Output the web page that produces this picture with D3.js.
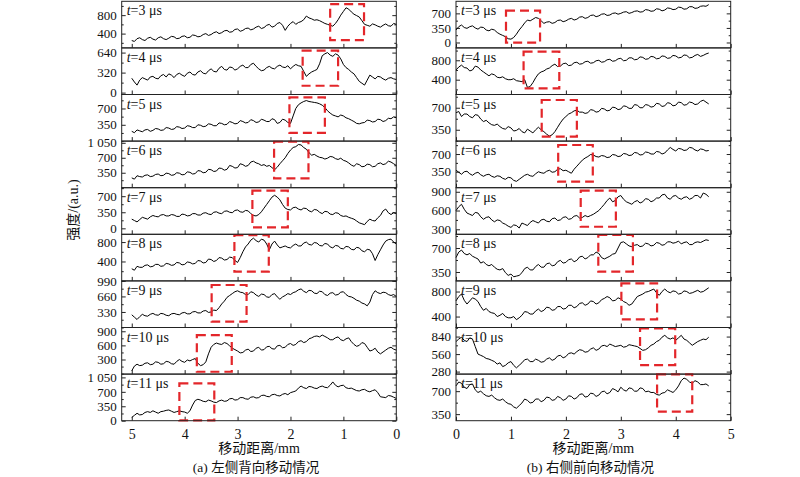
<!DOCTYPE html>
<html>
<head>
<meta charset="utf-8">
<script src="https://cdn.jsdelivr.net/npm/d3@7"></script>
<style>
  body { margin: 0; background: #fff; }
  text { font-family: "Liberation Serif", "Times New Roman", "Noto Sans CJK SC", serif; fill: #111; }
</style>
</head>
<body>
<div id="viz"></div>
<script>
// sampling step along the scan, mm
const leftDist = d3.range(101).map(k => +(5 - k * 0.05).toFixed(2));   // 5.00 -> 0.00
const rightDist = d3.range(93).map(k => +(k * 0.05).toFixed(2));       // 0.00 -> 4.60

const times = [3, 4, 5, 6, 7, 8, 9, 10, 11];

// (a) left side, intensity in a.u.
const leftT3 = [250, 230, 290, 310, 270, 250, 300, 320, 280, 260, 310, 330, 290, 270, 300, 340, 330, 290, 300, 340,
  350, 310, 320, 370, 360, 330, 340, 380, 400, 360, 380, 420, 440, 400, 420, 460, 470, 430, 440, 490,
  500, 450, 470, 510, 520, 480, 500, 540, 560, 510, 530, 580, 600, 540, 560, 620, 640, 580, 470, 560,
  620, 660, 600, 640, 660, 700, 780, 740, 720, 690, 700, 680, 650, 620, 600, 580, 560, 620, 700, 800,
  880, 960, 930, 870, 820, 790, 760, 680, 600, 580, 560, 610, 590, 560, 540, 580, 610, 570, 560, 620, 600];
const leftT4 = [230, 170, 120, 200, 240, 220, 200, 250, 260, 230, 220, 270, 290, 250, 300, 280, 240, 290, 310, 280,
  260, 310, 330, 290, 280, 330, 350, 310, 300, 350, 380, 340, 330, 390, 420, 370, 360, 410, 400, 360,
  380, 420, 440, 400, 400, 450, 470, 420, 380, 350, 360, 400, 420, 390, 380, 420, 440, 410, 400, 430,
  380, 420, 450, 430, 420, 340, 260, 300, 330, 350, 370, 460, 590, 620, 640, 600, 580, 620, 600, 540,
  450, 400, 370, 330, 300, 240, 180, 150, 120, 200, 280, 250, 220, 260, 250, 220, 200, 230, 240, 220, 210];
const leftT5 = [210, 180, 240, 220, 200, 240, 250, 210, 230, 270, 260, 230, 240, 290, 280, 250, 260, 310, 300, 270,
  280, 330, 320, 290, 290, 350, 340, 310, 320, 370, 360, 330, 330, 390, 380, 350, 360, 420, 400, 370,
  380, 440, 420, 390, 400, 460, 440, 400, 410, 470, 450, 420, 420, 480, 460, 380, 400, 470, 450, 400,
  380, 540, 700, 780, 820, 850, 870, 850, 840, 830, 820, 800, 770, 720, 650, 600, 560, 540, 520, 560,
  540, 500, 480, 450, 420, 380, 370, 390, 400, 450, 440, 410, 420, 470, 460, 420, 440, 490, 480, 520, 500];
const leftT6 = [230, 200, 280, 260, 250, 290, 300, 260, 270, 310, 320, 280, 290, 340, 330, 290, 300, 350, 340, 300,
  310, 370, 360, 320, 330, 400, 390, 350, 360, 430, 420, 380, 390, 460, 450, 410, 430, 520, 500, 460,
  470, 560, 540, 500, 520, 600, 620, 580, 560, 520, 540, 500, 520, 470, 420, 480, 560, 630, 700, 800,
  880, 940, 960, 1010, 1000, 940, 900, 820, 760, 780, 740, 710, 700, 670, 690, 730, 720, 680, 660, 690,
  640, 620, 580, 530, 500, 560, 540, 490, 500, 550, 540, 490, 500, 560, 580, 540, 560, 620, 600, 560, 520];
const leftT7 = [200, 170, 140, 190, 240, 220, 200, 250, 280, 260, 250, 290, 300, 270, 270, 300, 290, 260, 260, 310,
  300, 270, 280, 320, 320, 290, 290, 330, 340, 310, 300, 350, 360, 330, 320, 370, 380, 350, 340, 390,
  400, 360, 350, 390, 380, 320, 280, 270, 300, 360, 440, 520, 600, 680, 720, 680, 620, 520, 440, 410,
  400, 450, 460, 420, 400, 440, 430, 380, 360, 410, 400, 350, 320, 370, 360, 310, 300, 340, 330, 280,
  260, 270, 240, 220, 200, 160, 120, 100, 80, 150, 200, 170, 160, 230, 280, 380, 420, 340, 300, 340, 320];
const leftT8 = [250, 220, 300, 280, 280, 320, 330, 290, 300, 340, 340, 300, 310, 360, 350, 320, 330, 380, 370, 330,
  340, 390, 380, 350, 360, 420, 410, 370, 380, 450, 440, 400, 420, 480, 470, 430, 440, 490, 480, 420,
  380, 480, 600, 700, 760, 840, 880, 830, 800, 860, 840, 760, 640, 760, 820, 740, 680, 700, 720, 690,
  680, 730, 760, 720, 720, 780, 800, 750, 740, 790, 780, 730, 720, 770, 760, 700, 680, 730, 720, 670,
  660, 710, 700, 650, 640, 690, 680, 620, 600, 650, 640, 560, 420, 540, 640, 740, 820, 850, 860, 800, 760];
const leftT9 = [270, 220, 170, 230, 280, 250, 240, 280, 300, 270, 260, 300, 290, 260, 250, 290, 300, 280, 270, 310,
  320, 290, 290, 330, 340, 310, 310, 350, 360, 320, 330, 370, 360, 420, 500, 560, 640, 680, 720, 760,
  780, 750, 740, 700, 700, 760, 740, 690, 660, 710, 700, 650, 640, 700, 720, 650, 600, 650, 680, 720,
  700, 740, 760, 800, 820, 770, 740, 790, 780, 730, 720, 770, 760, 700, 680, 730, 740, 690, 700, 750,
  760, 700, 660, 650, 620, 580, 560, 520, 500, 460, 540, 700, 780, 740, 720, 750, 740, 700, 680, 700, 660];
const leftT10 = [60, 160, 200, 170, 180, 220, 230, 190, 200, 250, 240, 200, 210, 260, 250, 210, 200, 260, 300, 260,
  240, 290, 270, 300, 320, 220, 170, 190, 250, 420, 560, 620, 650, 630, 620, 660, 640, 590, 540, 510,
  480, 440, 450, 500, 520, 470, 480, 540, 560, 500, 510, 570, 580, 530, 520, 590, 600, 550, 560, 620,
  640, 600, 620, 680, 700, 660, 680, 740, 760, 790, 800, 780, 820, 790, 760, 720, 720, 760, 780, 720,
  700, 740, 760, 680, 620, 580, 600, 660, 640, 560, 480, 500, 540, 460, 420, 460, 500, 540, 560, 520, 500];
const leftT11 = [80, 130, 180, 140, 150, 200, 220, 200, 240, 210, 180, 220, 230, 250, 260, 230, 200, 220, 240, 220,
  210, 180, 240, 380, 490, 520, 500, 470, 460, 500, 480, 450, 440, 480, 500, 470, 480, 530, 540, 500,
  510, 560, 560, 530, 520, 570, 580, 550, 560, 610, 620, 590, 580, 630, 640, 610, 600, 640, 660, 630,
  680, 700, 720, 790, 840, 800, 780, 830, 820, 790, 780, 820, 840, 810, 800, 860, 940, 860, 820, 850,
  860, 800, 780, 790, 760, 730, 720, 750, 760, 720, 700, 730, 750, 680, 580, 570, 560, 610, 600, 570, 540];

// (b) right side
const rightT3 = [300, 380, 420, 360, 340, 380, 400, 350, 320, 370, 360, 300, 280, 320, 300, 240, 200, 170, 140, 90,
  80, 120, 200, 300, 380, 470, 540, 520, 560, 600, 580, 520, 460, 490, 500, 460, 480, 530, 540, 500,
  520, 560, 580, 540, 560, 610, 620, 580, 600, 650, 660, 620, 640, 680, 690, 650, 660, 700, 710, 680,
  700, 730, 740, 700, 720, 750, 760, 730, 740, 790, 780, 750, 760, 810, 800, 760, 780, 830, 820, 790,
  800, 850, 840, 800, 810, 860, 860, 820, 830, 870, 880, 870, 910];
const rightT4 = [600, 660, 700, 650, 640, 580, 600, 680, 660, 600, 560, 520, 480, 520, 500, 450, 440, 460, 420, 400,
  400, 420, 380, 370, 360, 400, 240, 260, 340, 440, 520, 560, 580, 620, 640, 690, 720, 670, 680, 730,
  740, 690, 700, 750, 760, 720, 730, 770, 780, 740, 750, 790, 800, 760, 770, 810, 820, 780, 790, 830,
  840, 790, 800, 850, 850, 810, 820, 870, 860, 820, 830, 880, 870, 830, 840, 890, 880, 840, 850, 900,
  890, 850, 860, 910, 900, 850, 860, 900, 920, 880, 900, 930, 950];
const rightT5 = [620, 640, 560, 600, 600, 560, 540, 590, 580, 520, 480, 500, 460, 430, 420, 440, 400, 370, 360, 400,
  380, 330, 340, 370, 320, 300, 360, 330, 300, 350, 390, 350, 320, 280, 250, 270, 320, 390, 460, 520,
  560, 600, 620, 650, 660, 630, 630, 610, 620, 670, 660, 630, 640, 690, 680, 650, 660, 710, 700, 670,
  680, 730, 720, 690, 690, 750, 740, 700, 700, 750, 740, 710, 720, 770, 760, 720, 730, 780, 770, 730,
  740, 790, 780, 740, 750, 790, 780, 750, 760, 800, 820, 790, 760];
const rightT6 = [380, 340, 300, 350, 360, 310, 280, 320, 340, 290, 260, 290, 300, 260, 240, 270, 260, 220, 200, 240,
  230, 180, 160, 200, 240, 280, 300, 270, 260, 310, 350, 330, 320, 360, 380, 340, 350, 400, 410, 370,
  380, 350, 320, 400, 460, 520, 580, 620, 650, 690, 680, 650, 640, 670, 660, 630, 640, 690, 680, 650,
  660, 710, 700, 670, 680, 730, 720, 680, 690, 740, 730, 700, 700, 750, 740, 700, 720, 780, 830, 790,
  760, 810, 800, 770, 780, 830, 820, 780, 760, 800, 790, 760, 770];
const rightT7 = [600, 660, 700, 620, 560, 540, 520, 570, 560, 500, 460, 490, 500, 450, 420, 450, 440, 400, 380, 350,
  330, 370, 360, 320, 400, 380, 360, 410, 440, 420, 400, 450, 460, 430, 420, 470, 480, 440, 450, 490,
  500, 460, 470, 510, 520, 480, 490, 520, 500, 520, 540, 570, 600, 650, 700, 760, 800, 740, 760, 820,
  840, 780, 740, 720, 700, 740, 760, 720, 740, 790, 780, 740, 760, 800, 800, 850, 860, 800, 780, 830,
  840, 800, 780, 810, 820, 780, 800, 840, 840, 800, 880, 860, 820];
const rightT8 = [560, 640, 670, 620, 600, 620, 580, 560, 540, 480, 500, 460, 440, 460, 420, 390, 380, 400, 340, 300,
  320, 280, 290, 300, 340, 400, 420, 380, 380, 430, 460, 420, 420, 470, 480, 440, 450, 500, 520, 480,
  490, 530, 540, 500, 520, 570, 580, 540, 560, 600, 600, 640, 620, 560, 540, 560, 580, 610, 620, 700,
  780, 790, 760, 730, 720, 740, 750, 720, 730, 770, 760, 730, 740, 780, 770, 740, 750, 790, 790, 770,
  780, 800, 760, 780, 790, 750, 750, 780, 790, 780, 800, 820, 810];
const rightT9 = [650, 720, 760, 660, 600, 650, 700, 680, 640, 560, 500, 530, 480, 460, 450, 400, 420, 450, 400, 380,
  380, 400, 350, 380, 420, 480, 470, 440, 440, 490, 520, 480, 500, 550, 540, 500, 510, 560, 560, 520,
  530, 580, 580, 540, 560, 610, 620, 580, 600, 650, 640, 600, 620, 670, 690, 720, 700, 650, 660, 700,
  680, 640, 620, 580, 600, 660, 720, 740, 760, 790, 800, 820, 840, 780, 740, 800, 840, 800, 780, 810,
  800, 760, 770, 810, 800, 770, 780, 800, 820, 790, 800, 830, 860];
const rightT10 = [760, 800, 830, 780, 760, 820, 800, 680, 560, 540, 520, 490, 480, 460, 440, 400, 420, 360, 380, 420,
  440, 380, 340, 380, 420, 470, 480, 440, 440, 480, 460, 430, 440, 480, 500, 460, 480, 530, 540, 500,
  520, 570, 580, 560, 600, 630, 620, 590, 600, 640, 660, 620, 640, 690, 700, 680, 720, 700, 680, 690,
  700, 670, 680, 710, 700, 690, 680, 650, 620, 630, 660, 700, 720, 760, 780, 830, 860, 820, 800, 820,
  780, 820, 860, 800, 780, 740, 700, 730, 760, 780, 800, 790, 830];
const rightT11 = [780, 840, 820, 760, 740, 800, 810, 720, 680, 700, 660, 630, 620, 640, 600, 570, 560, 580, 540, 510,
  500, 460, 440, 480, 520, 580, 560, 520, 530, 580, 580, 540, 560, 610, 600, 560, 570, 620, 600, 560,
  580, 630, 620, 580, 600, 650, 660, 610, 620, 670, 660, 620, 640, 690, 700, 660, 680, 740, 720, 690,
  760, 720, 700, 750, 740, 700, 700, 750, 740, 690, 700, 680, 680, 650, 640, 670, 680, 720, 700, 680,
  720, 780, 860, 900, 880, 840, 820, 860, 840, 800, 800, 810, 780];

// y range of each strip
const leftDomains = [[90, 1100], [-30, 715], [0, 1000], [0, 1090], [-130, 885], [0, 960], [0, 990], [-10, 980], [0, 1130]];
const rightDomains = [[-130, 990], [95, 1055], [170, 910], [35, 955], [220, 965], [220, 900], [225, 970], [240, 985], [250, 960]];

// labelled y ticks of each strip
const leftTicks = [[400, 800], [0, 320, 640], [350, 700], [350, 700, 1050], [0, 350, 700], [400, 800], [330, 660, 990], [300, 600, 900], [0, 350, 700, 1050]];
const rightTicks = [[0, 350, 700], [400, 800], [350, 700], [350, 700], [300, 600, 900], [350, 700], [400, 800], [280, 560, 840], [350, 700]];

// dashed boxes: [x0, x1, y0, y1] in mm / a.u.
const leftBoxes = [[0.61, 1.25, 260, 1040], [1.10, 1.77, 110, 670], [1.35, 2.02, 177, 940], [1.66, 2.31, 220, 1075],
  [2.05, 2.72, 20, 820], [2.41, 3.06, 190, 945], [2.83, 3.49, 123, 903], [3.11, 3.77, 40, 820], [3.44, 4.10, 10, 905]];
const rightBoxes = [[0.91, 1.53, -5, 765], [1.23, 1.88, 223, 977], [1.56, 2.20, 240, 823], [1.86, 2.49, 153, 878],
  [2.27, 2.91, 341, 917], [2.59, 3.22, 354, 890], [3.01, 3.66, 356, 932], [3.35, 3.99, 385, 972], [3.66, 4.30, 387, 957]];

const xTicks = [0, 1, 2, 3, 4, 5];

const leftSeries = [leftT3, leftT4, leftT5, leftT6, leftT7, leftT8, leftT9, leftT10, leftT11];
const rightSeries = [rightT3, rightT4, rightT5, rightT6, rightT7, rightT8, rightT9, rightT10, rightT11];

const svg = d3.select("#viz").append("svg")
  .attr("width", 800)
  .attr("height", 477);

const rowTop = 1.3, rowH = 46.6;
const fmt = d => d >= 1000 ? String(d).replace(/(\d)(\d{3})$/, "$1 $2") : String(d);

function drawPanel(cfg) {
  const x = d3.scaleLinear().domain(cfg.xDomain).range([cfg.left, cfg.right]);
  const g = svg.append("g");

  times.forEach((t, i) => {
    const top = rowTop + i * rowH;
    const bottom = top + rowH;
    const dom = cfg.domains[i];
    const y = d3.scaleLinear().domain(dom).range([bottom, top]);
    const major = cfg.ticks[i];
    const step = major[1] - major[0];
    const minor = d3.range(major[0] - step * 2, dom[1] + 1, step / 2)
      .filter(v => v >= dom[0] && v <= dom[1] && !major.includes(v));
    const row = g.append("g");

    // label first, curve drawn over it
    const lab = row.append("text")
      .attr("x", cfg.left + 5)
      .attr("y", top + 14)
      .style("font-size", "14px");
    lab.append("tspan").style("font-style", "italic").text("t");
    lab.append("tspan").text("=" + t + " μs");

    // y axis left (labelled) + right mirror
    row.append("g").attr("transform", `translate(${cfg.left},0)`)
      .call(d3.axisLeft(y).tickValues(major).tickSizeInner(-4).tickSizeOuter(0).tickPadding(5).tickFormat(fmt))
      .call(a => a.select(".domain").remove())
      .call(a => a.selectAll("text").style("font-size", "13px").attr("font-family", null));
    row.append("g").attr("transform", `translate(${cfg.left},0)`)
      .call(d3.axisLeft(y).tickValues(minor).tickSizeInner(-2).tickSizeOuter(0).tickFormat(""))
      .call(a => a.select(".domain").remove());
    row.append("g").attr("transform", `translate(${cfg.right},0)`)
      .call(d3.axisRight(y).tickValues(major).tickSizeInner(-4).tickSizeOuter(0).tickFormat(""))
      .call(a => a.select(".domain").remove());
    row.append("g").attr("transform", `translate(${cfg.right},0)`)
      .call(d3.axisRight(y).tickValues(minor).tickSizeInner(-2).tickSizeOuter(0).tickFormat(""))
      .call(a => a.select(".domain").remove());

    // bottom ticks
    const xa = d3.axisBottom(x).tickValues(xTicks).tickSizeInner(-4).tickSizeOuter(0).tickPadding(8)
      .tickFormat(d3.format("d"));
    if (i < times.length - 1) xa.tickFormat("");
    row.append("g").attr("transform", `translate(0,${bottom})`)
      .call(xa)
      .call(a => a.select(".domain").remove())
      .call(a => a.selectAll("text").style("font-size", "14px").attr("font-family", null));

    row.selectAll(".tick line").attr("stroke", "#222");

    // curve
    const line = d3.line()
      .x((d, j) => x(cfg.dist[j]))
      .y(d => y(d));
    row.append("path")
      .datum(cfg.series[i])
      .attr("d", line)
      .attr("fill", "none")
      .attr("stroke", "#000")
      .attr("stroke-width", 1)
      .attr("stroke-linejoin", "round");

    // dashed box
    const b = cfg.boxes[i];
    const bx0 = Math.min(x(b[0]), x(b[1])), bx1 = Math.max(x(b[0]), x(b[1]));
    row.append("rect")
      .attr("x", bx0)
      .attr("y", y(b[3]))
      .attr("width", bx1 - bx0)
      .attr("height", y(b[2]) - y(b[3]))
      .attr("fill", "none")
      .attr("stroke", "#e3262a")
      .attr("stroke-width", 2.2)
      .attr("stroke-dasharray", "9,5");

    // strip frame
    row.append("rect")
      .attr("x", cfg.left)
      .attr("y", top)
      .attr("width", cfg.right - cfg.left)
      .attr("height", rowH)
      .attr("fill", "none")
      .attr("stroke", "#222")
      .attr("stroke-width", 1);
  });

  const mid = (cfg.left + cfg.right) / 2;
  g.append("text")
    .attr("x", mid)
    .attr("y", 453)
    .attr("text-anchor", "middle")
    .style("font-size", "14px")
    .text("移动距离/mm");
  g.append("text")
    .attr("x", mid - 3)
    .attr("y", 472)
    .attr("text-anchor", "middle")
    .style("font-size", "13.5px")
    .text(cfg.caption);
}

drawPanel({
  xDomain: [5.19, 0], left: 121.7, right: 396.3,
  dist: leftDist, series: leftSeries, domains: leftDomains, ticks: leftTicks, boxes: leftBoxes,
  caption: "(a) 左侧背向移动情况"
});
drawPanel({
  xDomain: [0, 5], left: 456, right: 730.7,
  dist: rightDist, series: rightSeries, domains: rightDomains, ticks: rightTicks, boxes: rightBoxes,
  caption: "(b) 右侧前向移动情况"
});

// y axis title
svg.append("text")
  .attr("transform", "translate(78,210) rotate(-90)")
  .attr("text-anchor", "middle")
  .style("font-size", "14px")
  .text("强度/(a.u.)");
</script>
</body>
</html>
